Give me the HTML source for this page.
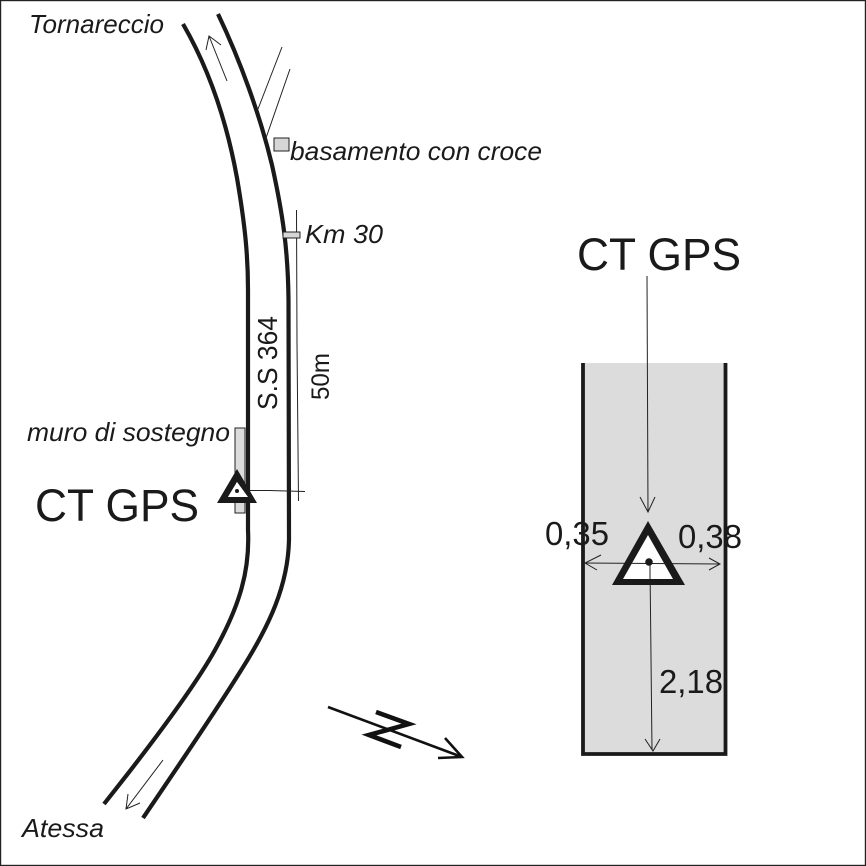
<!DOCTYPE html>
<html><head><meta charset="utf-8">
<style>html,body{margin:0;padding:0;background:#fff}svg{display:block}
text{font-family:"Liberation Sans",sans-serif;fill:#1a1a1a}
.i{font-style:italic;font-size:26px}
.b{font-size:45px}
.n{font-size:33px}
</style></head><body>
<svg width="866" height="866" viewBox="0 0 866 866" xmlns="http://www.w3.org/2000/svg">
<rect x="0" y="0" width="866" height="866" fill="#fff"/>
<rect x="0.5" y="0.5" width="865" height="865" fill="none" stroke="#222" stroke-width="1.400"/>
<!-- grey box right -->
<rect x="584" y="363" width="141" height="390" fill="#dcdcdc"/>
<path d="M583 363V754H725.500V363" fill="none" stroke="#1a1a1a" stroke-width="3.800"/>
<!-- muro -->
<rect x="235" y="428" width="10" height="85" fill="#dcdcdc" stroke="#222" stroke-width="1"/>
<!-- road -->
<path d="M183 24C205 62 225 112 237 178C245 225 248 255 248 290L248 530C250 570 240 605 215 650C190 695 135 765 104 804" fill="none" stroke="#1a1a1a" stroke-width="4.200"/>
<path d="M218 14C240 60 260 115 272 165C283 215 288 250 288.500 300L289 540C288 585 270 625 240 672C210 720 170 778 143 818" fill="none" stroke="#1a1a1a" stroke-width="4.200"/>
<g fill="none" stroke="#222" stroke-width="1">
<!-- north arrow road -->
<path d="M227 81L209 36M206 50L209 36L221 45"/>
<!-- bottom road arrow -->
<path d="M163 760L126 809M128 794L126 809L140 803"/>
<!-- side lines -->
<path d="M258 109L282 47M266 138L290 69"/>
<!-- dimension -->
<path d="M296.500 210L297 343L298.500 501"/>
<path d="M248 490.500L269 490.500L305 491.500"/>
<!-- right arrows -->
<path d="M647 276L648 512M640 497L648 512L655 497"/>
<path d="M650 565L652 750M645 739L653 751L660 739"/>
</g>
<rect x="274" y="138" width="15" height="13" fill="#d6d6d6" stroke="#222" stroke-width="1"/>
<rect x="283" y="232" width="17" height="6" fill="#d6d6d6" stroke="#222" stroke-width="1"/>
<!-- north symbol -->
<g fill="none" stroke="#111">
<path d="M328 707L462 757" stroke-width="2.600"/>
<path d="M445 738L462 757L438 758" stroke-width="2.600"/>
<path d="M376 712L409 724L369 735L401 747" stroke-width="4.600"/>
</g>
<!-- triangle left -->
<path fill-rule="evenodd" d="M237 469L257 503H217ZM237 482L228 497H248Z" fill="#1a1a1a"/>
<path d="M237 482L248 497H228Z" fill="#fff"/>
<circle cx="237" cy="491" r="2" fill="#1a1a1a"/>
<!-- triangle right -->
<path d="M648 535L673 579H623Z" fill="#fff"/>
<path d="M584 563L720 564M650 565V582" stroke="#222" stroke-width="1" fill="none"/>
<path d="M601 555L585 563L597 570M709 558L720 564L709 570" stroke="#222" stroke-width="1" fill="none"/>
<path fill-rule="evenodd" d="M648 521L685 585H612ZM648 535L623 579H673Z" fill="#1a1a1a"/>
<circle cx="649" cy="562" r="3.800" fill="#1a1a1a"/>
<!-- labels -->
<text class="i" x="29" y="33" textLength="135" lengthAdjust="spacingAndGlyphs">Tornareccio</text>
<text class="i" x="290" y="160" textLength="252" lengthAdjust="spacingAndGlyphs">basamento con croce</text>
<text class="i" x="305" y="243" textLength="78" lengthAdjust="spacingAndGlyphs">Km 30</text>
<text class="i" x="27" y="441" textLength="203" lengthAdjust="spacingAndGlyphs">muro di sostegno</text>
<text class="i" x="22" y="837" textLength="82" lengthAdjust="spacingAndGlyphs">Atessa</text>
<text class="b" x="35" y="521" textLength="164" lengthAdjust="spacingAndGlyphs">CT GPS</text>
<text class="b" x="577" y="270" textLength="164" lengthAdjust="spacingAndGlyphs">CT GPS</text>
<text x="277" y="410" font-size="28" transform="rotate(-90 277 410)" textLength="94" lengthAdjust="spacingAndGlyphs">S.S 364</text>
<text x="329" y="400" font-size="25" transform="rotate(-90 329 400)" textLength="47" lengthAdjust="spacingAndGlyphs">50m</text>
<text class="n" x="545" y="545" textLength="64" lengthAdjust="spacingAndGlyphs">0,35</text>
<text class="n" x="678" y="548" textLength="64" lengthAdjust="spacingAndGlyphs">0,38</text>
<text class="n" x="659" y="693" textLength="64" lengthAdjust="spacingAndGlyphs">2,18</text>
</svg>
</body></html>
